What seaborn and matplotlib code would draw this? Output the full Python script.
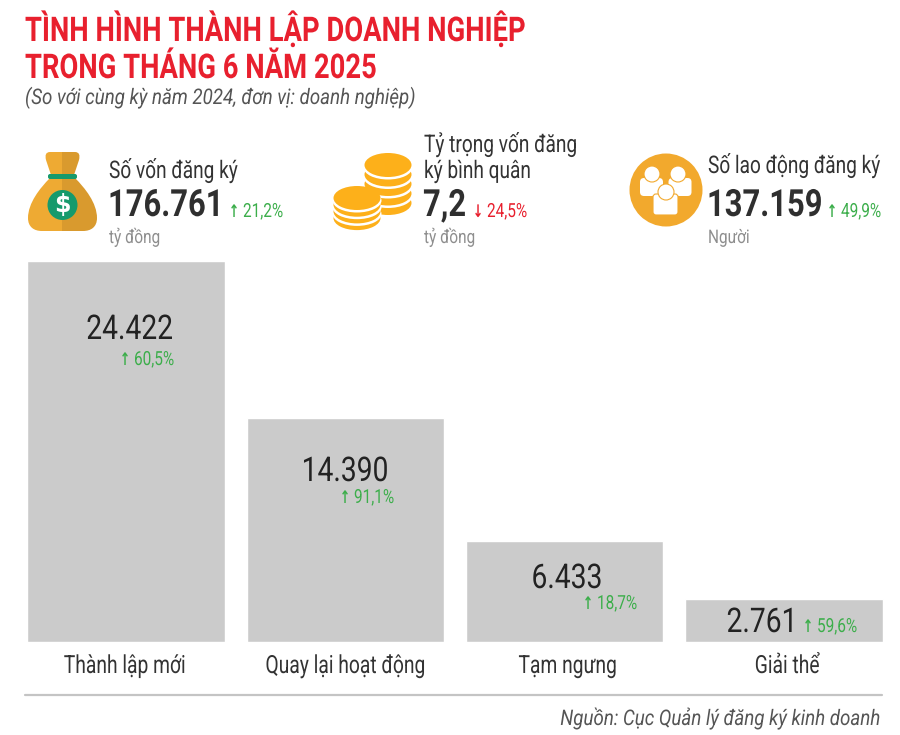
import matplotlib
matplotlib.use("Agg")
import matplotlib.pyplot as plt
from matplotlib.patches import Circle, Ellipse, FancyBboxPatch, PathPatch
from matplotlib.path import Path
from matplotlib.patheffects import AbstractPathEffect
from matplotlib.transforms import Affine2D
import pandas as pd
import seaborn as sns

categories = ['Thành lập mới', 'Quay lại hoạt động', 'Tạm ngưng', 'Giải thể']
values = [24422, 14390, 6433, 2761]
value_labels = ['24.422', '14.390', '6.433', '2.761']
changes = ['60,5%', '91,1%', '18,7%', '59,6%']

kpi_titles = [['Số vốn đăng ký'], ['Tỷ trọng vốn đăng', 'ký bình quân'], ['Số lao động đăng ký']]
kpi_values = ['176.761', '7,2', '137.159']
kpi_changes = ['21,2%', '24,5%', '49,9%']
kpi_up = [True, False, True]
kpi_units = ['tỷ đồng', 'tỷ đồng', 'Người']

W, H = 900, 735
RED = '#e8202e'
GREEN = '#3cae4b'
DARK = '#2f2f2f'
GREY = '#8e8e8e'
BAR = '#cbcbcb'
GOLD = '#fdb01a'

sns.set_style("white")
plt.rcParams['font.family'] = ['Roboto', 'DejaVu Sans']


# the reference uses a condensed face, so squeeze Roboto horizontally around its anchor
class Squeeze(AbstractPathEffect):
    def __init__(self, sx, x0):
        super().__init__()
        self.sx = sx
        self.x0 = x0

    def draw_path(self, renderer, gc, tpath, affine, rgbFace=None):
        t = affine + Affine2D().translate(-self.x0, 0).scale(self.sx, 1).translate(self.x0, 0)
        renderer.draw_path(gc, tpath, t, rgbFace)


fig = plt.figure(figsize=(W / 100, H / 100), dpi=100, facecolor='white')

# bars: baseline at y=641, tallest top at y=262
ax = fig.add_axes([16.5 / W, 1 - 641.5 / H, 877 / W, 380 / H])
df = pd.DataFrame({'category': categories, 'value': values})
sns.barplot(data=df, x='category', y='value', color=BAR, saturation=1, width=0.9, ax=ax)
ax.set_ylim(0, 24422)
ax.set_xlim(-0.5, 3.5)
ax.set_xlabel('')
ax.set_ylabel('')
ax.set_yticks([])
ax.tick_params(axis='x', length=0, pad=9, labelsize=18, labelcolor='#333333')
sns.despine(ax=ax, left=True, bottom=True)
for tick, cx in zip(ax.get_xticklabels(), [120, 345.5, 578, 798]):
    tick.set_path_effects([Squeeze(0.77, cx)])

# overlay in pixel coordinates for text and icons
ov = fig.add_axes([0, 0, 1, 1], facecolor='none')
ov.set_xlim(0, W)
ov.set_ylim(H, 0)
ov.axis('off')


def label(x, y, s, size, sx, color=DARK, weight='normal', style='normal', ha='left', family=None):
    t = ov.text(x, y, s, fontsize=size, color=color, fontweight=weight, fontstyle=style,
                ha=ha, va='baseline', family=family or ['Roboto', 'DejaVu Sans'])
    t.set_path_effects([Squeeze(sx, x)])


def arrow(x, y, up, color):
    label(x, y, '↑' if up else '↓', 12.5, 0.72, color, 'bold', ha='center', family='DejaVu Sans')


label(25, 41, 'TÌNH HÌNH THÀNH LẬP DOANH NGHIỆP', 24.5, 0.805, RED, 'bold')
label(25, 78, 'TRONG THÁNG 6 NĂM 2025', 24.5, 0.805, RED, 'bold')
label(25, 104, '(So với cùng kỳ năm 2024, đơn vị: doanh nghiệp)', 15.5, 0.87, '#555555', style='italic')

# KPI row
kpi_x = [109, 424, 708]
kpi_title_y = [[178], [152, 178], [173]]
arrow_x = [234, 478, 832]
for i in range(3):
    for line, y in zip(kpi_titles[i], kpi_title_y[i]):
        label(kpi_x[i], y, line, 17.5, 0.785, '#333333')
    label(kpi_x[i] - 1, 216, kpi_values[i], 27, 0.825, DARK, 'bold')
    c = GREEN if kpi_up[i] else RED
    arrow(arrow_x[i], 217, kpi_up[i], c)
    label(arrow_x[i] + 9, 217, kpi_changes[i], 14, 0.79, c)
    label(kpi_x[i], 243, kpi_units[i], 13.5, 0.82, GREY)

# values on the bars
val_cx = [129.5, 345, 567, 762]
val_y = [339, 481, 588, 632]
chg_x = [134, 354, 597, 817]
chg_y = [365, 503, 609, 632]
for i in range(4):
    label(val_cx[i], val_y[i], value_labels[i], 24.5, 0.83, '#222222', ha='center')
    arrow(chg_x[i] - 9, chg_y[i], True, GREEN)
    label(chg_x[i], chg_y[i], changes[i], 14, 0.79, GREEN)

# bottom rule and source
ov.plot([25, 882], [695, 695], color='#c4c4c4', lw=1.6)
label(880, 725, 'Nguồn: Cục Quản lý đăng ký kinh doanh', 15.5, 0.87, '#555555', style='italic', ha='right')

# money bag icon
bag_codes = [Path.MOVETO, Path.CURVE4, Path.CURVE4, Path.CURVE4,
             Path.CURVE4, Path.CURVE4, Path.CURVE4, Path.LINETO, Path.LINETO, Path.CLOSEPOLY]
ov.add_patch(PathPatch(Path([(50, 178), (40, 188), (28, 203), (28, 218),
                             (28, 227), (34, 231), (42, 231), (63, 231), (63, 178), (50, 178)], bag_codes),
                       fc='#eeaa33', ec='none'))
ov.add_patch(PathPatch(Path([(75, 178), (85, 188), (97, 203), (97, 218),
                             (97, 227), (91, 231), (83, 231), (62, 231), (62, 178), (75, 178)], bag_codes),
                       fc='#d99a2e', ec='none'))
neck_codes = [Path.MOVETO, Path.CURVE3, Path.CURVE3, Path.LINETO, Path.LINETO, Path.LINETO, Path.CLOSEPOLY]
ov.add_patch(PathPatch(Path([(50, 152), (44, 152), (46, 160), (51, 175), (63, 175), (63, 152), (50, 152)], neck_codes),
                       fc='#eeaa33', ec='none'))
ov.add_patch(PathPatch(Path([(75, 152), (81, 152), (79, 160), (74, 175), (62, 175), (62, 152), (75, 152)], neck_codes),
                       fc='#d99a2e', ec='none'))
ov.add_patch(FancyBboxPatch((48, 174), 29, 5, boxstyle='round,pad=0,rounding_size=2', fc='#169a6c', ec='none'))
ov.add_patch(Circle((62.5, 205), 15, fc='#169a6c', ec='none'))
ov.text(62.5, 205, '$', fontsize=17, fontweight='bold', color='white', ha='center', va='center', family='DejaVu Sans')


def coin_stack(cx, top, n, step, w=47, h=24):
    # bottom coin first, each one leaving a white crescent on the coin below
    for k in range(n - 1, -1, -1):
        y = top + k * step
        ov.add_patch(Ellipse((cx, y + 2.5), w + 2, h, fc='white', ec='none'))
        ov.add_patch(Ellipse((cx, y), w, h, fc=GOLD, ec='none'))


# coins icon
coin_stack(388, 165, 5, 9.5)
coin_stack(357, 198, 4, 6.7)

# people icon
ov.add_patch(Circle((666, 190), 36.5, fc='#f2a92d', ec='none'))
for cx, hx in [(651.5, 652), (680, 678)]:
    ov.add_patch(FancyBboxPatch((cx - 11.5, 178), 23, 18, boxstyle='round,pad=0,rounding_size=4', fc='white', ec='none'))
    ov.add_patch(Circle((hx, 174), 8, fc='white', ec='#f2a92d', lw=0.8))
ov.add_patch(FancyBboxPatch((653, 194), 25, 21, boxstyle='round,pad=0,rounding_size=3', fc='white', ec='#f2a92d', lw=0.8))
ov.add_patch(Circle((666, 192), 8, fc='white', ec='#f2a92d', lw=0.8))

fig.savefig('out.png', dpi=100)
